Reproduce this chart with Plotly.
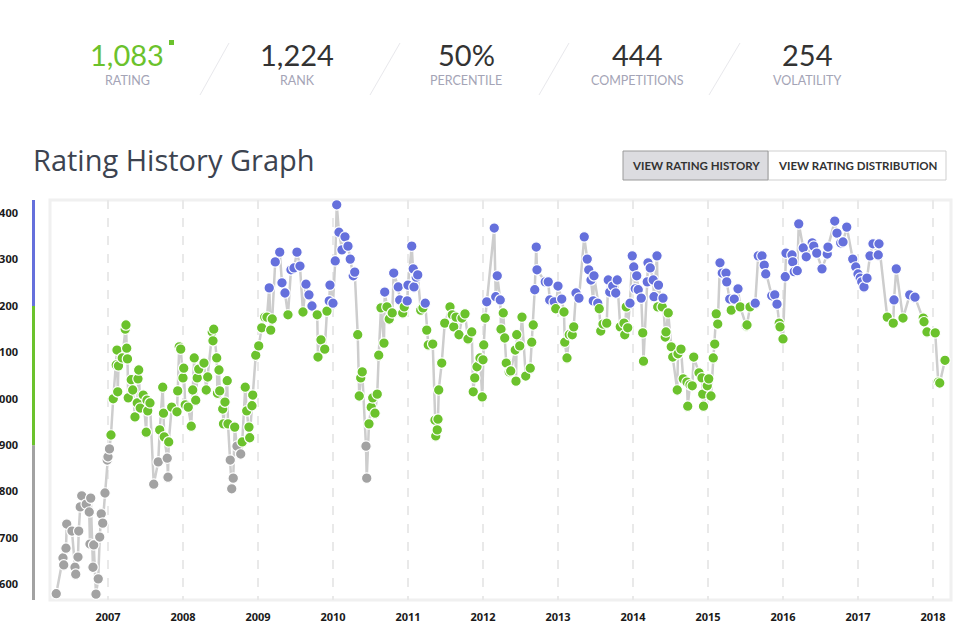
import plotly.graph_objects as go

# ---------------- data ----------------
years = [
    2006.31, 2006.40, 2006.41, 2006.44, 2006.45, 2006.52, 2006.56, 2006.57, 2006.60, 2006.61,
    2006.63, 2006.65, 2006.71, 2006.75, 2006.76, 2006.77, 2006.80, 2006.81, 2006.84, 2006.87,
    2006.89, 2006.91, 2006.93, 2006.96, 2006.99, 2007.00, 2007.02, 2007.04, 2007.07, 2007.11,
    2007.12, 2007.13, 2007.14, 2007.19, 2007.23, 2007.24, 2007.25, 2007.26, 2007.27, 2007.31,
    2007.33, 2007.36, 2007.39, 2007.40, 2007.41, 2007.43, 2007.47, 2007.51, 2007.52, 2007.53,
    2007.56, 2007.61, 2007.67, 2007.69, 2007.73, 2007.74, 2007.75, 2007.79, 2007.80, 2007.81,
    2007.85, 2007.92, 2007.93, 2007.95, 2007.97, 2008.00, 2008.01, 2008.03, 2008.07, 2008.11,
    2008.13, 2008.15, 2008.17, 2008.19, 2008.21, 2008.28, 2008.31, 2008.33, 2008.39, 2008.40,
    2008.41, 2008.45, 2008.46, 2008.48, 2008.49, 2008.53, 2008.54, 2008.56, 2008.59, 2008.60,
    2008.63, 2008.65, 2008.67, 2008.69, 2008.72, 2008.77, 2008.79, 2008.83, 2008.85, 2008.88,
    2008.89, 2008.92, 2008.93, 2008.97, 2009.01, 2009.05, 2009.09, 2009.12, 2009.15, 2009.17,
    2009.19, 2009.23, 2009.29, 2009.32, 2009.36, 2009.40, 2009.44, 2009.48, 2009.52, 2009.56,
    2009.60, 2009.64, 2009.68, 2009.72, 2009.79, 2009.80, 2009.84, 2009.89, 2009.92, 2009.95,
    2009.96, 2010.00, 2010.03, 2010.05, 2010.08, 2010.12, 2010.16, 2010.20, 2010.23, 2010.27,
    2010.29, 2010.33, 2010.35, 2010.37, 2010.39, 2010.44, 2010.45, 2010.48, 2010.51, 2010.53,
    2010.56, 2010.59, 2010.61, 2010.64, 2010.68, 2010.69, 2010.72, 2010.75, 2010.79, 2010.81,
    2010.87, 2010.89, 2010.93, 2010.95, 2010.99, 2011.00, 2011.05, 2011.07, 2011.08, 2011.11,
    2011.13, 2011.17, 2011.20, 2011.23, 2011.25, 2011.27, 2011.33, 2011.36, 2011.37, 2011.39,
    2011.40, 2011.41, 2011.45, 2011.49, 2011.56, 2011.59, 2011.61, 2011.64, 2011.68, 2011.72,
    2011.76, 2011.80, 2011.85, 2011.87, 2011.89, 2011.92, 2011.96, 2011.99, 2012.00, 2012.01,
    2012.03, 2012.05, 2012.15, 2012.17, 2012.19, 2012.23, 2012.24, 2012.27, 2012.29, 2012.31,
    2012.35, 2012.37, 2012.43, 2012.44, 2012.45, 2012.49, 2012.52, 2012.57, 2012.63, 2012.65,
    2012.67, 2012.69, 2012.71, 2012.72, 2012.83, 2012.87, 2012.89, 2012.95, 2012.97, 2013.00,
    2013.05, 2013.08, 2013.09, 2013.12, 2013.15, 2013.19, 2013.21, 2013.24, 2013.28, 2013.35,
    2013.39, 2013.41, 2013.44, 2013.47, 2013.48, 2013.53, 2013.55, 2013.57, 2013.60, 2013.65,
    2013.67, 2013.69, 2013.73, 2013.77, 2013.79, 2013.83, 2013.88, 2013.89, 2013.91, 2013.93,
    2013.96, 2013.99, 2014.01, 2014.03, 2014.05, 2014.07, 2014.11, 2014.13, 2014.14, 2014.19,
    2014.20, 2014.23, 2014.27, 2014.28, 2014.32, 2014.33, 2014.34, 2014.39, 2014.40, 2014.43,
    2014.44, 2014.47, 2014.51, 2014.53, 2014.59, 2014.60, 2014.64, 2014.67, 2014.72, 2014.73,
    2014.76, 2014.79, 2014.81, 2014.88, 2014.92, 2014.93, 2014.94, 2014.99, 2015.01, 2015.04,
    2015.07, 2015.09, 2015.11, 2015.13, 2015.16, 2015.19, 2015.24, 2015.25, 2015.29, 2015.31,
    2015.35, 2015.40, 2015.43, 2015.51, 2015.52, 2015.56, 2015.63, 2015.67, 2015.72, 2015.75,
    2015.77, 2015.85, 2015.89, 2015.92, 2015.95, 2015.96, 2016.00, 2016.03, 2016.04, 2016.12,
    2016.13, 2016.15, 2016.19, 2016.21, 2016.27, 2016.31, 2016.39, 2016.41, 2016.45, 2016.52,
    2016.59, 2016.60, 2016.69, 2016.72, 2016.77, 2016.80, 2016.85, 2016.93, 2016.97, 2017.00,
    2017.03, 2017.05, 2017.08, 2017.12, 2017.16, 2017.20, 2017.27, 2017.28, 2017.39, 2017.47,
    2017.48, 2017.51, 2017.60, 2017.69, 2017.76, 2017.87, 2017.88, 2017.92, 2018.03, 2018.07,
    2018.09, 2018.16,
]

ratings = [
    580, 657, 642, 678, 730, 715, 637, 622, 659, 715,
    767, 791, 773, 756, 687, 786, 637, 685, 579, 612,
    702, 752, 732, 797, 868, 875, 892, 922, 1000, 1073,
    1105, 1015, 1071, 1088, 1150, 1159, 1109, 1086, 1002, 1041,
    1019, 961, 991, 1043, 1062, 980, 1008, 928, 997, 974,
    991, 816, 864, 933, 1025, 969, 918, 872, 831, 907,
    982, 972, 1017, 1112, 1107, 1045, 1066, 987, 982, 941,
    1019, 1088, 997, 1045, 1064, 1077, 1019, 1047, 1144, 1125,
    1150, 1088, 1012, 1062, 1017, 978, 946, 993, 1039, 946,
    868, 806, 829, 939, 898, 881, 907, 1025, 974, 939,
    916, 985, 1008, 1094, 1114, 1153, 1176, 1176, 1239, 1148,
    1172, 1295, 1316, 1250, 1228, 1181, 1278, 1282, 1316, 1286,
    1187, 1247, 1224, 1200, 1181, 1090, 1127, 1107, 1189, 1211,
    1245, 1206, 1297, 1418, 1359, 1321, 1349, 1329, 1301, 1265,
    1273, 1138, 1006, 1045, 1058, 898, 829, 946, 982, 1002,
    969, 1010, 1094, 1196, 1120, 1230, 1198, 1172, 1185, 1271,
    1241, 1213, 1185, 1198, 1211, 1245, 1329, 1280, 1241, 1262,
    1267, 1191, 1196, 1206, 1148, 1116, 1118, 954, 920, 933,
    956, 1019, 1077, 1163, 1198, 1181, 1155, 1176, 1138, 1174,
    1183, 1129, 1144, 1015, 1045, 1069, 1088, 1004, 1084, 1116,
    1174, 1209, 1368, 1220, 1265, 1213, 1150, 1185, 1131, 1077,
    1058, 1060, 1105, 1038, 1138, 1114, 1176, 1049, 1066, 1122,
    1159, 1235, 1327, 1278, 1252, 1252, 1213, 1209, 1194, 1243,
    1215, 1187, 1122, 1088, 1138, 1138, 1155, 1228, 1217, 1349,
    1301, 1278, 1256, 1211, 1265, 1206, 1194, 1146, 1161, 1163,
    1256, 1230, 1243, 1228, 1256, 1155, 1163, 1138, 1198, 1153,
    1206, 1308, 1284, 1237, 1265, 1235, 1217, 1142, 1081, 1252,
    1293, 1282, 1256, 1220, 1308, 1198, 1245, 1198, 1217, 1133,
    1144, 1185, 1112, 1090, 1019, 1097, 1107, 1043, 1036, 984,
    1030, 1028, 1090, 1056, 1045, 1010, 984, 1028, 1043, 1006,
    1088, 1118, 1183, 1161, 1293, 1271, 1271, 1252, 1215, 1191,
    1215, 1237, 1198, 1157, 1159, 1198, 1206, 1308, 1308, 1288,
    1269, 1222, 1224, 1204, 1163, 1155, 1129, 1263, 1314, 1310,
    1295, 1274, 1276, 1377, 1325, 1306, 1336, 1329, 1314, 1280,
    1312, 1327, 1383, 1357, 1336, 1338, 1370, 1301, 1284, 1269,
    1260, 1252, 1241, 1260, 1308, 1334, 1310, 1334, 1176, 1163,
    1213, 1280, 1174, 1224, 1219, 1174, 1166, 1144, 1142, 1036,
    1034, 1083,
]

year_ticks = list(range(2007, 2019))
rating_ticks = [600, 700, 800, 900, 1000, 1100, 1200, 1300, 1400]
band_edges = [900, 1200]  # gray < 900 <= green < 1200 <= blue

stat_values = ["1,083", "1,224", "50%", "444", "254"]
stat_labels = ["RATING", "RANK", "PERCENTILE", "COMPETITIONS", "VOLATILITY"]

# ---------------- styles ----------------
BLUE = "#6570dc"
GREEN = "#6bc22c"
GRAY = "#a2a2a2"
W, H = 968, 627
L, R, T, B = 50, 951, 200, 600
Y_MIN, Y_MAX = 566.4, 1428.4
X_MIN, X_MAX = 2006.227, 2018.24


def px(x):
    return (x - L) / (R - L)


def py(y):
    return (B - y) / (B - T)


def band_color(v):
    if v >= band_edges[1]:
        return BLUE
    if v >= band_edges[0]:
        return GREEN
    return GRAY


colors = [band_color(v) for v in ratings]

fig = go.Figure()
fig.add_trace(go.Scatter(
    x=years, y=ratings, mode="lines",
    line=dict(color="#cdcdcd", width=2.5),
    hoverinfo="skip", showlegend=False,
))
fig.add_trace(go.Scatter(
    x=years, y=ratings, mode="markers",
    marker=dict(color=colors, size=10.5, line=dict(color="white", width=1.2)),
    showlegend=False,
))

shapes = []
# plot frame
shapes.append(dict(type="rect", xref="paper", yref="paper", x0=0, x1=1, y0=0, y1=1,
                   line=dict(color="#f0f0f0", width=3), layer="below"))
# rating band bar
bar_x0, bar_x1 = px(32), px(35)
for lo, hi, c in [(Y_MIN, band_edges[0], GRAY), (band_edges[0], band_edges[1], GREEN),
                  (band_edges[1], Y_MAX, BLUE)]:
    shapes.append(dict(type="rect", xref="paper", yref="y", x0=bar_x0, x1=bar_x1,
                       y0=lo, y1=hi, fillcolor=c, line=dict(width=0)))
# separators between stats
for (x0, y0, x1, y1) in [(200, 95, 229, 43), (370, 95, 400, 43), (539, 95, 569, 43), (709, 95, 740, 43)]:
    shapes.append(dict(type="line", xref="paper", yref="paper", x0=px(x0), y0=py(y0),
                       x1=px(x1), y1=py(y1), line=dict(color="#e8e8ec", width=1)))
# small green square next to rating
shapes.append(dict(type="rect", xref="paper", yref="paper", x0=px(169), x1=px(174),
                   y0=py(45), y1=py(40), fillcolor=GREEN, line=dict(width=0)))
# buttons
shapes.append(dict(type="rect", xref="paper", yref="paper", x0=px(768), x1=px(946),
                   y0=py(180), y1=py(151), fillcolor="white", line=dict(color="#cfcfcf", width=1)))
shapes.append(dict(type="rect", xref="paper", yref="paper", x0=px(623), x1=px(768),
                   y0=py(180), y1=py(151), fillcolor="#dcdce0", line=dict(color="#9a9a9a", width=1)))

annotations = []
stat_x = [127, 297, 466, 637, 807]
for i, (val, lab) in enumerate(zip(stat_values, stat_labels)):
    annotations.append(dict(xref="paper", yref="paper", x=px(stat_x[i]), y=py(54),
                            text=val, showarrow=False, xanchor="center", yanchor="middle",
                            font=dict(family="Lato", size=29,
                                      color=GREEN if i == 0 else "#333333")))
    annotations.append(dict(xref="paper", yref="paper", x=px(stat_x[i]), y=py(80.5),
                            text=lab, showarrow=False, xanchor="center", yanchor="middle",
                            font=dict(family="Lato", size=12.5, color="#a4a4b6")))
annotations.append(dict(xref="paper", yref="paper", x=px(31), y=py(160),
                        text="Rating History Graph", showarrow=False,
                        xanchor="left", yanchor="middle",
                        font=dict(family="Open Sans", size=29, color="#3c4350")))
annotations.append(dict(xref="paper", yref="paper", x=px(695.5), y=py(165.5),
                        text="VIEW RATING HISTORY", showarrow=False,
                        xanchor="center", yanchor="middle",
                        font=dict(family="Lato", size=11.5, color="#333333", weight="bold")))
annotations.append(dict(xref="paper", yref="paper", x=px(857), y=py(165.5),
                        text="VIEW RATING DISTRIBUTION", showarrow=False,
                        xanchor="center", yanchor="middle",
                        font=dict(family="Lato", size=11.5, color="#333333", weight="bold")))

fig.update_layout(
    width=W, height=H,
    margin=dict(l=L, r=W - R, t=T, b=H - B, pad=0, autoexpand=False),
    paper_bgcolor="white", plot_bgcolor="white",
    shapes=shapes, annotations=annotations,
    xaxis=dict(range=[X_MIN, X_MAX], tickvals=year_ticks,
               ticktext=[str(y) for y in year_ticks],
               showgrid=True, gridcolor="#e9e9e9", gridwidth=2, griddash="dash",
               zeroline=False, showline=False, ticks="", automargin=False,
               ticklabelstandoff=9,
               tickfont=dict(family="Noto Sans", size=11, color="#1a1a1a", weight="bold"),
               fixedrange=True),
    yaxis=dict(range=[Y_MIN, Y_MAX], tickvals=rating_ticks,
               ticktext=[str(v) for v in rating_ticks],
               showgrid=False, zeroline=False, showline=False, ticks="", automargin=False,
               ticklabelstandoff=31,
               tickfont=dict(family="Noto Sans", size=11, color="#1a1a1a", weight="bold"),
               fixedrange=True),
    hovermode="closest",
)

fig.write_html("out.html", config={"displayModeBar": False},
               post_script="document.body.style.margin='0';document.body.style.overflow='hidden';")
